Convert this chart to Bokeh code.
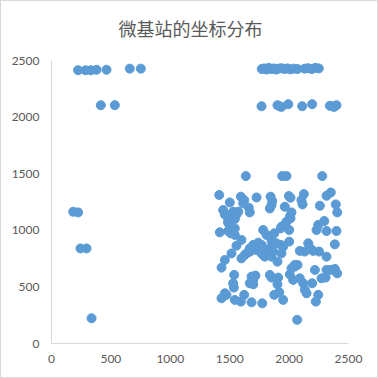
from bokeh.plotting import figure
from bokeh.models import Range1d, FixedTicker
from bokeh.core.properties import value
from bokeh.embed import file_html
from bokeh.resources import INLINE

title_text = "微基站的坐标分布"
tick_values = [0, 500, 1000, 1500, 2000, 2500]
axis_max = 2500

# left-side stations
left_x = [224, 286, 331, 379, 463, 659, 752, 415, 533, 183, 224, 244, 295, 337]
left_y = [2414, 2414, 2414, 2418, 2418, 2428, 2428, 2105, 2105, 1164, 1158, 840, 840, 223]

# right upper rows
top_x = [1770, 1790, 1810, 1830, 1850, 1870, 1890, 1910, 1935, 1960, 1985, 2010, 2040, 2070,
         2130, 2160, 2190, 2220, 2250,
         1768, 1902, 1920, 1936, 1993, 2110, 2194, 2343, 2365, 2380, 2399]
top_y = [2425, 2430, 2420, 2435, 2425, 2430, 2420, 2428, 2432, 2425, 2430, 2422, 2428, 2425,
         2428, 2432, 2425, 2435, 2430,
         2096, 2105, 2095, 2090, 2114, 2096, 2114, 2100, 2095, 2090, 2105]

# dense cluster, bottom right
cluster_x = [1636, 1942, 1978, 2279, 1412, 1594, 1622, 1726, 1844, 1858, 1998, 2012, 2124, 2104,
             2113, 2315, 2351, 1501, 1614, 1661, 1669, 1445, 1459, 1493, 1529, 1557, 1572, 1487,
             1543, 1501, 1487, 1838, 1852, 1964, 2259, 2393, 2405, 2020, 2006, 1978, 1959, 2012,
             1936, 1417, 1487, 1509, 1543, 1543, 1782, 1810, 1875, 1930, 2001, 2231, 2245, 2296,
             2315, 2399, 1599, 1557, 1852, 1894, 1930, 1950, 2001, 1852, 1936, 2161, 2174, 2090,
             2132, 2203, 2253, 2385, 2315, 1515, 1459, 1431, 1776, 1796, 1902, 2048, 2020, 1599,
             1627, 1669, 1698, 1740, 1768, 1726, 1768, 1804, 1838, 1866, 1852, 1641, 1669, 1538,
             1529, 1535, 1684, 1717, 1698, 1669, 1698, 1838, 1852, 1908, 1902, 2006, 2034, 2048,
             2071, 2090, 2119, 2132, 2147, 2194, 2217, 2273, 2307, 2315, 2351, 2385, 2405, 1459,
             1431, 1473, 1543, 1594, 1622, 1684, 1774, 1875, 1917, 1950, 2225, 2245, 2068]
cluster_y = [1479, 1479, 1479, 1479, 1312, 1297, 1267, 1290, 1297, 1259, 1303, 1288, 1320, 1267,
             1229, 1305, 1334, 1246, 1237, 1200, 1158, 1179, 1140, 1135, 1164, 1140, 1164, 1082,
             1100, 1105, 1066, 1193, 1223, 1208, 1217, 1229, 1158, 1158, 1120, 1076, 1047, 1105,
             1032, 982, 994, 973, 1017, 959, 1003, 959, 973, 1017, 1003, 1003, 1047, 1082,
             994, 994, 915, 864, 906, 885, 871, 856, 900, 826, 796, 885, 847, 818,
             812, 818, 812, 876, 767, 796, 738, 670, 788, 767, 723, 694, 664, 752,
             782, 811, 871, 891, 871, 826, 796, 826, 841, 811, 767, 796, 841, 606,
             532, 494, 591, 600, 562, 532, 523, 606, 582, 582, 523, 611, 562, 679,
             694, 576, 532, 474, 444, 532, 650, 576, 582, 650, 650, 659, 620, 444,
             400, 430, 385, 370, 430, 364, 355, 430, 452, 385, 370, 430, 209]

xs = left_x + top_x + cluster_x
ys = left_y + top_y + cluster_y

# plot area spans 0..2500 on both axes; the region above 2500 holds the title
top_extra = axis_max * 59 / 283
p = figure(width=378, height=378, output_backend="svg", toolbar_location=None, title=None,
           x_range=Range1d(0, axis_max), y_range=Range1d(0, axis_max + top_extra),
           min_border_left=50, min_border_right=31, min_border_top=0, min_border_bottom=36)

p.styles = {"border": "1px solid #D9D9D9", "box-sizing": "border-box"}

p.scatter(xs, ys, size=9, fill_color="#5B9BD5", line_color="#5B9BD5")

title_y = axis_max + top_extra * (59 - 26) / 59
title_x = axis_max * (189 - 50) / 297
p.text(x=[title_x], y=[title_y], text=[title_text], text_align="center",
       text_baseline="middle", text_font=value("Noto Sans CJK SC"),
       text_font_size="18px", text_color="#595959")

for ax in (p.xaxis[0], p.yaxis[0]):
    ax.ticker = FixedTicker(ticks=tick_values)
    ax.axis_line_color = "#D9D9D9"
    ax.major_tick_line_color = None
    ax.minor_tick_line_color = None
    ax.major_tick_out = 0
    ax.major_tick_in = 0
    ax.minor_tick_out = 0
    ax.minor_tick_in = 0
    ax.major_label_text_font = "Lato"
    ax.major_label_text_font_size = "12px"
    ax.major_label_text_color = "#595959"
    ax.bounds = (0, axis_max)

p.xaxis[0].major_label_standoff = 11
p.yaxis[0].major_label_standoff = 12

p.grid.visible = False
p.outline_line_color = None

open("out.html", "w").write(file_html(p, INLINE))
